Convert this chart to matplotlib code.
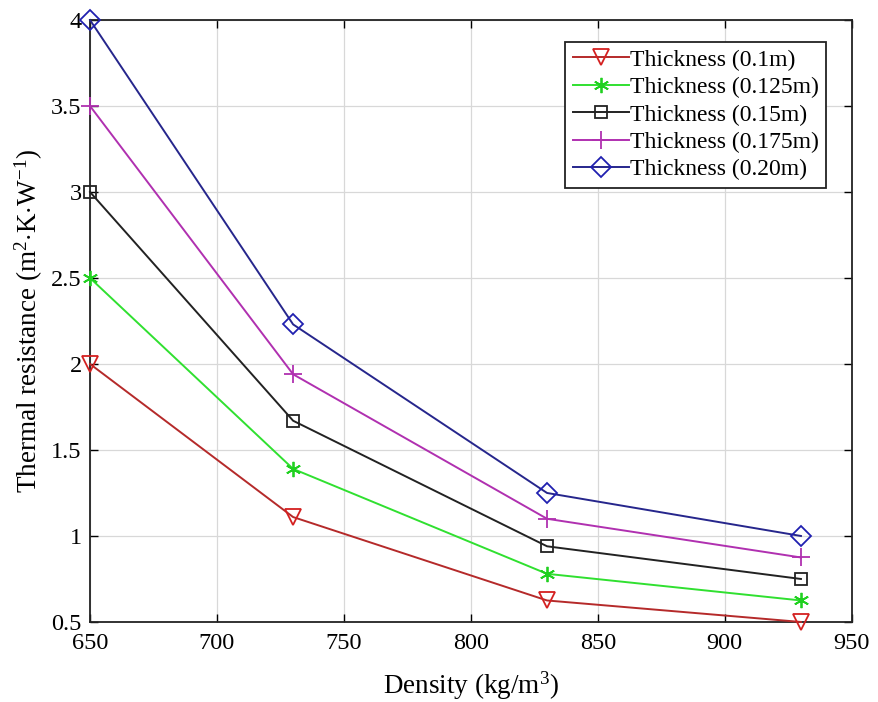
import matplotlib.pyplot as plt

plt.rcParams['font.family'] = 'serif'
plt.rcParams['font.serif'] = ['Liberation Serif', 'DejaVu Serif']
plt.rcParams['mathtext.fontset'] = 'custom'
plt.rcParams['mathtext.rm'] = 'Liberation Serif'
plt.rcParams['mathtext.it'] = 'Liberation Serif:italic'

# data
density = [650, 730, 830, 930]
r_010 = [2.0, 1.11, 0.625, 0.5]
r_0125 = [2.5, 1.39, 0.78, 0.625]
r_015 = [3.0, 1.67, 0.94, 0.75]
r_0175 = [3.5, 1.94, 1.10, 0.875]
r_020 = [4.0, 2.23, 1.25, 1.0]
labels = ['Thickness (0.1m)', 'Thickness (0.125m)', 'Thickness (0.15m)',
          'Thickness (0.175m)', 'Thickness (0.20m)']
xticks = [650, 700, 750, 800, 850, 900, 950]
yticks = [0.5, 1, 1.5, 2, 2.5, 3, 3.5, 4]
ytick_labels = ['0.5', '1', '1.5', '2', '2.5', '3', '3.5', '4']

fig = plt.figure(figsize=(8.79, 7.02), dpi=100)
ax = fig.add_axes([0.1024, 0.114, 0.8666, 0.8575])

styles = [
    dict(color='#b52a2a', marker='v', mec='#d42020', ms=12),
    dict(color='#30e030', marker=(6, 2, 0), mec='#20d020', ms=11),
    dict(color='#222222', marker='s', mec='#222222', ms=8),
    dict(color='#b030b0', marker='+', mec='#b030b0', ms=13),
    dict(color='#26268c', marker='D', mec='#2020b0', ms=10),
]
series = [r_010, r_0125, r_015, r_0175, r_020]
for vals, lab, st in zip(series, labels, styles):
    ax.plot(density, vals, color=st['color'], lw=1.4, marker=st['marker'],
            mfc='none', mec=st['mec'], mew=1.3, ms=st['ms'], label=lab,
            clip_on=False, zorder=3)

ax.set_xlim(650, 950)
ax.set_ylim(0.5, 4)
ax.set_xticks(xticks)
ax.set_xticklabels([str(x) for x in xticks])
ax.set_yticks(yticks)
ax.set_yticklabels(ytick_labels)
ax.tick_params(direction='in', top=True, right=True, labelsize=17.5, length=6, width=1)
ax.tick_params(axis='x', pad=8)
ax.tick_params(axis='y', pad=6)
ax.grid(True, color='#d8d8d8', lw=0.9)
for sp in ax.spines.values():
    sp.set_linewidth(1.3)
    sp.set_color('#222222')

ax.set_xlabel('Density (kg/m$^3$)', fontsize=19.5, labelpad=11)
ax.set_ylabel(r'Thermal resistance (m$^2$$\cdot$K$\cdot$W$^{-1}$)', fontsize=19.5, labelpad=4)

leg = ax.legend(loc='upper right', bbox_to_anchor=(0.976, 0.975), fontsize=17,
                fancybox=False, framealpha=1, edgecolor='#222222',
                handlelength=2.4, handletextpad=0.05, borderpad=0.3,
                labelspacing=0.25, borderaxespad=0.3)
leg.get_frame().set_linewidth(1.3)

fig.savefig('out.png', dpi=100, facecolor='white')
